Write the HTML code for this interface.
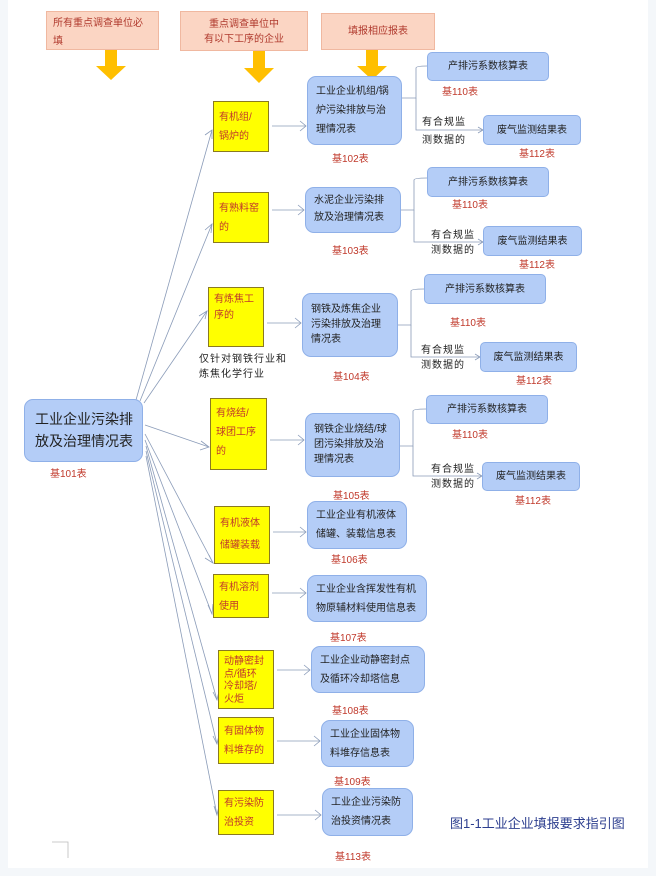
<!DOCTYPE html>
<html><head><meta charset="utf-8"><style>
body{margin:0;width:656px;height:876px;background:#fff;position:relative;overflow:hidden;font-family:"Liberation Sans","Noto Sans CJK SC",sans-serif;}
.a{position:absolute;box-sizing:border-box;}
.top{background:#fbd5c3;border:1px solid #f0b8a0;color:#b03a2e;font-size:10px;line-height:18px;padding:3px 8px;}
.y{background:#ffff00;border:1px solid #8a7a20;color:#c0392b;font-size:10px;line-height:19px;padding:4px 5px;}
.b{background:#b4cdf7;border:1px solid #8fb0e8;border-radius:9px;color:#222;font-size:10px;line-height:19px;padding:6px 8px;}
.r{background:#b4cdf7;border:1px solid #8fb0e8;border-radius:5px;color:#222;font-size:10px;text-align:center;}
.l{color:#c0392b;font-size:10px;}
.t{color:#222;font-size:10px;letter-spacing:1px;}
</style></head><body>
<div class="a" style="left:0;top:0;width:8px;height:876px;background:#f4f7fa"></div>
<div class="a" style="left:648px;top:0;width:8px;height:876px;background:#f4f7fa"></div>
<div class="a" style="left:0;top:868px;width:656px;height:8px;background:#f4f7fa"></div>

<svg class="a" style="left:0;top:0" width="656" height="876">
<g fill="#ffbf00">
<polygon points="105,50 117,50 117,66 126,66 111,80 96,66 105,66"/>
<polygon points="253,51 265,51 265,68 274,68 259,83 244,68 253,68"/>
<polygon points="366,49 378,49 378,66 387,66 372,80 357,66 366,66"/>
</g>
<g stroke="#8a9bb8" stroke-width="0.8" fill="none">
<line x1="136" y1="400" x2="212" y2="130"/>
<line x1="140" y1="401" x2="212" y2="224"/>
<line x1="144" y1="403" x2="207" y2="311"/>
<line x1="145" y1="425" x2="209" y2="447"/>
<line x1="145" y1="434" x2="213" y2="563"/>
<line x1="145" y1="440" x2="212" y2="614"/>
<line x1="146" y1="446" x2="217" y2="700"/>
<line x1="146" y1="451" x2="217" y2="744"/>
<line x1="146" y1="456" x2="217" y2="815"/>
<polyline points="205,135 212,130 212,139"/>
<polyline points="205,230 212,224 211,233"/>
<polyline points="199,316 207,311 205,319"/>
<polyline points="201,441 209,447 200,450"/>
<polyline points="205,558 213,563 209,555"/>
<polyline points="208,605 212,614 213,604"/>
<polyline points="213,692 217,700 219,691"/>
<polyline points="213,736 217,744 219,735"/>
<polyline points="214,806 217,815 219,806"/>
<line x1="272" y1="126" x2="306" y2="126"/><polyline points="300,121 306,126 300,131"/>
<line x1="272" y1="210" x2="304" y2="210"/><polyline points="298,205 304,210 298,215"/>
<line x1="267" y1="323" x2="301" y2="323"/><polyline points="295,318 301,323 295,328"/>
<line x1="270" y1="440" x2="304" y2="440"/><polyline points="298,435 304,440 298,445"/>
<line x1="273" y1="532" x2="306" y2="532"/><polyline points="300,527 306,532 300,537"/>
<line x1="272" y1="593" x2="306" y2="593"/><polyline points="300,588 306,593 300,598"/>
<line x1="277" y1="670" x2="310" y2="670"/><polyline points="304,665 310,670 304,675"/>
<line x1="277" y1="741" x2="320" y2="741"/><polyline points="314,736 320,741 314,746"/>
<line x1="277" y1="815" x2="321" y2="815"/><polyline points="315,810 321,815 315,820"/>
<path d="M402,98 H416 V68 Q416,66 427,66"/><path d="M416,98 V130 H483"/><polyline points="478,127 483,130 478,133"/>
<path d="M401,210 H414 V180 Q414,178 427,178"/><path d="M414,210 V242 H483"/><polyline points="478,239 483,242 478,245"/>
<path d="M398,325 H411 V291 Q411,289 424,289"/><path d="M411,325 V357 H480"/><polyline points="475,354 480,357 475,360"/>
<path d="M400,446 H413 V411 Q413,409 426,409"/><path d="M413,446 V476 H482"/><polyline points="477,473 482,476 477,479"/>
</g>
<polyline points="52,842 68,842 68,858" stroke="#bbb" stroke-width="0.8" fill="none"/>
</svg>

<div class="a top" style="left:46px;top:11px;width:113px;height:39px;padding:3px 6px">所有重点调查单位必<br>填</div>
<div class="a top" style="left:180px;top:11px;width:128px;height:40px;text-align:center;line-height:15px;padding-top:5px">重点调查单位中<br>有以下工序的企业</div>
<div class="a top" style="left:321px;top:13px;width:114px;height:37px;text-align:center;line-height:30px;">填报相应报表</div>

<div class="a b" style="left:24px;top:399px;width:119px;height:63px;font-size:14px;line-height:22px;padding:8px 6px 8px 10px;">工业企业污染排放及治理情况表</div>
<div class="a l" style="left:50px;top:465px">基101表</div>

<div class="a y" style="left:213px;top:101px;width:56px;height:51px;padding-top:6px">有机组/<br>锅炉的</div>
<div class="a y" style="left:213px;top:192px;width:56px;height:51px;padding-top:6px">有熟料窑<br>的</div>
<div class="a y" style="left:208px;top:287px;width:56px;height:60px;line-height:16px;">有炼焦工<br>序的</div>
<div class="a t" style="left:199px;top:352px;line-height:15px;">仅针对钢铁行业和<br>炼焦化学行业</div>
<div class="a y" style="left:210px;top:398px;width:57px;height:72px;padding-top:5px">有烧结/<br>球团工序<br>的</div>
<div class="a y" style="left:214px;top:506px;width:56px;height:58px;line-height:22px;padding-top:6px">有机液体<br>储罐装载</div>
<div class="a y" style="left:213px;top:574px;width:56px;height:44px;padding-top:3px">有机溶剂<br>使用</div>
<div class="a y" style="left:218px;top:650px;width:56px;height:59px;line-height:12.5px;padding-top:5px">动静密封<br>点/循环<br>冷却塔/<br>火炬</div>
<div class="a y" style="left:218px;top:717px;width:56px;height:47px;padding-top:4px">有固体物<br>料堆存的</div>
<div class="a y" style="left:218px;top:790px;width:56px;height:45px;padding-top:3px">有污染防<br>治投资</div>

<div class="a b" style="left:307px;top:76px;width:95px;height:69px;padding-top:5px">工业企业机组/锅<br>炉污染排放与治<br>理情况表</div>
<div class="a l" style="left:332px;top:150px">基102表</div>
<div class="a b" style="left:305px;top:187px;width:96px;height:46px;padding-top:4px;line-height:17px">水泥企业污染排<br>放及治理情况表</div>
<div class="a l" style="left:332px;top:242px">基103表</div>
<div class="a b" style="left:302px;top:293px;width:96px;height:64px;padding-top:8px;line-height:15px">钢铁及炼焦企业<br>污染排放及治理<br>情况表</div>
<div class="a l" style="left:333px;top:368px">基104表</div>
<div class="a b" style="left:305px;top:413px;width:95px;height:64px;padding-top:8px;line-height:15px">钢铁企业烧结/球<br>团污染排放及治<br>理情况表</div>
<div class="a l" style="left:333px;top:487px">基105表</div>
<div class="a b" style="left:307px;top:501px;width:100px;height:48px;padding-top:4px">工业企业有机液体<br>储罐、装载信息表</div>
<div class="a l" style="left:331px;top:551px">基106表</div>
<div class="a b" style="left:307px;top:575px;width:120px;height:47px;padding-top:4px">工业企业含挥发性有机<br>物原辅材料使用信息表</div>
<div class="a l" style="left:330px;top:629px">基107表</div>
<div class="a b" style="left:311px;top:646px;width:114px;height:47px;padding-top:4px">工业企业动静密封点<br>及循环冷却塔信息</div>
<div class="a l" style="left:332px;top:702px">基108表</div>
<div class="a b" style="left:321px;top:720px;width:93px;height:47px;padding-top:4px">工业企业固体物<br>料堆存信息表</div>
<div class="a l" style="left:334px;top:773px">基109表</div>
<div class="a b" style="left:322px;top:788px;width:91px;height:48px;padding-top:4px">工业企业污染防<br>治投资情况表</div>
<div class="a l" style="left:335px;top:848px">基113表</div>

<div class="a r" style="left:427px;top:52px;width:122px;height:29px;line-height:28px">产排污系数核算表</div>
<div class="a l" style="left:442px;top:83px">基110表</div>
<div class="a r" style="left:483px;top:115px;width:98px;height:30px;line-height:29px">废气监测结果表</div>
<div class="a l" style="left:519px;top:145px">基112表</div>
<div class="a t" style="left:422px;top:114px;line-height:18px">有合规监<br>测数据的</div>

<div class="a r" style="left:427px;top:167px;width:122px;height:30px;line-height:29px">产排污系数核算表</div>
<div class="a l" style="left:452px;top:196px">基110表</div>
<div class="a r" style="left:483px;top:226px;width:99px;height:30px;line-height:29px">废气监测结果表</div>
<div class="a l" style="left:519px;top:256px">基112表</div>
<div class="a t" style="left:431px;top:228px;line-height:15px">有合规监<br>测数据的</div>

<div class="a r" style="left:424px;top:274px;width:122px;height:30px;line-height:29px">产排污系数核算表</div>
<div class="a l" style="left:450px;top:314px">基110表</div>
<div class="a r" style="left:480px;top:342px;width:97px;height:30px;line-height:29px">废气监测结果表</div>
<div class="a l" style="left:516px;top:372px">基112表</div>
<div class="a t" style="left:421px;top:343px;line-height:15px">有合规监<br>测数据的</div>

<div class="a r" style="left:426px;top:395px;width:122px;height:29px;line-height:28px">产排污系数核算表</div>
<div class="a l" style="left:452px;top:426px">基110表</div>
<div class="a r" style="left:482px;top:462px;width:98px;height:29px;line-height:28px">废气监测结果表</div>
<div class="a l" style="left:515px;top:492px">基112表</div>
<div class="a t" style="left:431px;top:462px;line-height:15px">有合规监<br>测数据的</div>

<div class="a" style="left:450px;top:813px;color:#2c3e8f;font-size:13px;">图1-1工业企业填报要求指引图</div>
</body></html>
